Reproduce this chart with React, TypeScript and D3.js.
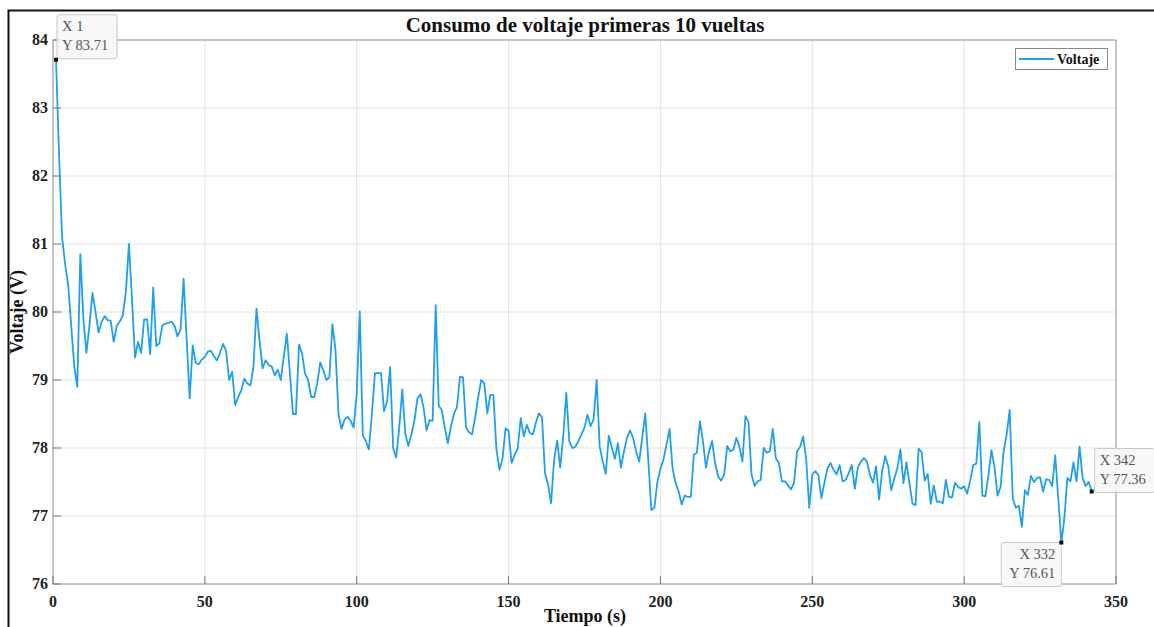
import React from "react";
import * as d3 from "d3";

// Voltage sampled once per second over the first 10 laps (t = 1 … 342 s)
const voltaje: number[] = [
  83.71, 82.3, 81.1, 80.7, 80.4, 79.8, 79.2, 78.9, 80.85, 79.9,
  79.4, 79.8, 80.28, 80.0, 79.7, 79.85, 79.94, 79.88, 79.87, 79.56,
  79.8, 79.86, 79.95, 80.3, 81.0, 80.2, 79.33, 79.56, 79.4, 79.89,
  79.89, 79.38, 80.36, 79.5, 79.54, 79.8, 79.83, 79.84, 79.86, 79.8,
  79.64, 79.74, 80.49, 79.6, 78.73, 79.51, 79.25, 79.23, 79.3, 79.34,
  79.42, 79.43, 79.35, 79.29, 79.4, 79.53, 79.43, 79.0, 79.12, 78.63,
  78.75, 78.85, 79.02, 78.95, 78.92, 79.19, 80.05, 79.58, 79.17, 79.29,
  79.22, 79.2, 79.07, 79.15, 79.0, 79.35, 79.68, 79.1, 78.5, 78.5,
  79.52, 79.39, 79.09, 79.0, 78.75, 78.75, 78.95, 79.26, 79.14, 79.0,
  79.04, 79.82, 79.45, 78.5, 78.28, 78.42, 78.46, 78.4, 78.3, 78.8,
  80.01, 78.19, 78.1, 77.98, 78.5, 79.1, 79.1, 79.1, 78.54, 78.68,
  79.19, 78.0, 77.86, 78.3, 78.86, 78.21, 78.03, 78.2, 78.4, 78.73,
  78.79, 78.6, 78.26, 78.41, 78.4, 80.1, 78.62, 78.56, 78.3, 78.07,
  78.31, 78.5, 78.6, 79.05, 79.04, 78.3, 78.23, 78.2, 78.45, 78.75,
  79.0, 78.95, 78.51, 78.78, 78.78, 77.98, 77.68, 77.84, 78.29, 78.25,
  77.78, 77.9, 77.99, 78.44, 78.17, 78.34, 78.22, 78.2, 78.37, 78.51,
  78.45, 77.63, 77.46, 77.19, 77.83, 78.11, 77.71, 78.17, 78.81, 78.1,
  78.0, 78.02, 78.1, 78.2, 78.3, 78.49, 78.32, 78.42, 79.0, 78.02,
  77.8, 77.62, 78.18, 78.0, 77.84, 78.07, 77.71, 77.95, 78.15, 78.26,
  78.15, 77.95, 77.8, 78.15, 78.51, 77.83, 77.09, 77.12, 77.5, 77.7,
  77.83, 78.05, 78.28, 77.7, 77.49, 77.36, 77.17, 77.3, 77.28, 77.28,
  77.9, 77.93, 78.39, 78.1, 77.71, 77.95, 78.1, 77.78, 77.58, 77.52,
  77.61, 78.03, 77.95, 77.97, 78.15, 78.02, 77.8, 78.47, 78.38, 77.61,
  77.44, 77.51, 77.53, 78.0, 77.93, 77.95, 78.28, 77.85, 77.78, 77.51,
  77.51, 77.45, 77.39, 77.49, 77.95, 78.02, 78.17, 77.83, 77.12, 77.61,
  77.66, 77.6, 77.26, 77.49, 77.7, 77.78, 77.68, 77.61, 77.75, 77.51,
  77.53, 77.63, 77.75, 77.4, 77.71, 77.8, 77.85, 77.8, 77.6, 77.49,
  77.73, 77.24, 77.66, 77.88, 77.73, 77.38, 77.55, 77.7, 77.98, 77.48,
  77.79, 77.48, 77.18, 77.16, 77.99, 77.94, 77.52, 77.62, 77.18, 77.45,
  77.21, 77.21, 77.19, 77.53, 77.28, 77.27, 77.49, 77.43, 77.4, 77.44,
  77.33, 77.52, 77.75, 77.77, 78.38, 77.3, 77.29, 77.6, 77.97, 77.72,
  77.3, 77.43, 77.95, 78.2, 78.56, 77.26, 77.12, 77.15, 76.84, 77.38,
  77.31, 77.59, 77.5, 77.56, 77.57, 77.36, 77.54, 77.53, 77.44, 77.89,
  77.25, 76.61, 76.97, 77.56, 77.51, 77.79, 77.51, 78.02, 77.56, 77.44,
  77.5, 77.36,
];

const xTicks: number[] = [0, 50, 100, 150, 200, 250, 300, 350];
const yTicks: number[] = [76, 77, 78, 79, 80, 81, 82, 83, 84];

// Highlighted samples (time in s) shown with data tips
const marcadores: number[] = [1, 332, 342];

const W = 1154;
const H = 627;
const FONT = "'Liberation Serif', 'Times New Roman', serif";
const LINE = "#1f9ff0";

export default function App() {
  const x = d3.scaleLinear().domain([0, 350]).range([53, 1116]);
  const y = d3.scaleLinear().domain([76, 84]).range([584, 40]);
  const [x0, x1] = x.range();
  const [y0, y1] = y.range();

  const pts: [number, number][] = voltaje.map((v, i) => [i + 1, v]);
  const line = d3
    .line<[number, number]>()
    .x((d) => x(d[0]))
    .y((d) => y(d[1]));

  const fmt = (v: number) => v.toFixed(2);

  // data tip boxes placed around the marked point
  const tip = (t: number) => {
    const v = voltaje[t - 1];
    const px = x(t);
    const py = y(v);
    if (t === 1) {
      return { bx: px + 1, by: py - 45, anchor: "start", tx: px + 6 };
    }
    if (t === 332) {
      return { bx: px - 60, by: py + 0, anchor: "end", tx: px - 6 };
    }
    return { bx: px + 3, by: py - 43, anchor: "start", tx: px + 8 };
  };

  return (
    <svg
      width={W}
      height={H}
      style={{ position: "absolute", left: 0, top: 0, background: "#fff" }}
      fontFamily={FONT}
    >
      <rect x={0} y={0} width={W} height={H} fill="#fff" />
      {/* figure frame */}
      <rect x={8.5} y={10.5} width={W + 20} height={H + 20} fill="none" stroke="#111" strokeWidth={2} />

      {/* grid */}
      <g stroke="#e3e3e3" strokeWidth={1}>
        {xTicks.map((t) => (
          <line key={"gx" + t} x1={x(t)} x2={x(t)} y1={y1} y2={y0} />
        ))}
        {yTicks.map((t) => (
          <line key={"gy" + t} x1={x0} x2={x1} y1={y(t)} y2={y(t)} />
        ))}
      </g>

      {/* axes box */}
      <rect x={x0} y={y1} width={x1 - x0} height={y0 - y1} fill="none" stroke="#9a9a9a" strokeWidth={1} />

      {/* ticks */}
      <g stroke="#777" strokeWidth={1}>
        {xTicks.map((t) => (
          <line key={"tx" + t} x1={x(t)} x2={x(t)} y1={y0} y2={y0 - 8} />
        ))}
        {yTicks.map((t) => (
          <line key={"ty" + t} x1={x0} x2={x0 + 8} y1={y(t)} y2={y(t)} />
        ))}
      </g>

      {/* tick labels */}
      <g fontWeight="bold" fontSize={16} fill="#222">
        {xTicks.map((t) => (
          <text key={"lx" + t} x={x(t)} y={607} textAnchor="middle">
            {t}
          </text>
        ))}
        {yTicks.map((t) => (
          <text key={"ly" + t} x={48} y={y(t) + 5} textAnchor="end">
            {t}
          </text>
        ))}
      </g>

      {/* series */}
      <path d={line(pts) || ""} fill="none" stroke={LINE} strokeWidth={1.8} strokeLinejoin="round" />

      {/* title and axis labels */}
      <text x={585} y={32} textAnchor="middle" fontWeight="bold" fontSize={21} fill="#111">
        Consumo de voltaje primeras 10 vueltas
      </text>
      <text x={585} y={622} textAnchor="middle" fontWeight="bold" fontSize={18} fill="#111">
        Tiempo (s)
      </text>
      <text
        transform={`translate(23, ${(y0 + y1) / 2}) rotate(-90)`}
        textAnchor="middle"
        fontWeight="bold"
        fontSize={18}
        fill="#111"
      >
        Voltaje (V)
      </text>

      {/* legend */}
      <g>
        <rect x={1015.5} y={48.5} width={92} height={21} fill="#fff" stroke="#8a8a8a" strokeWidth={1} />
        <line x1={1019} x2={1054} y1={59} y2={59} stroke={LINE} strokeWidth={2} />
        <text x={1057} y={64} fontWeight="bold" fontSize={14} fill="#111">
          Voltaje
        </text>
      </g>

      {/* data tips */}
      {marcadores.map((t) => {
        const v = voltaje[t - 1];
        const b = tip(t);
        return (
          <g key={"dt" + t}>
            <rect
              x={b.bx}
              y={b.by}
              width={60}
              height={44}
              rx={2}
              fill="#f7f7f7"
              fillOpacity={0.92}
              stroke="#c8c8c8"
              strokeWidth={1}
            />
            <text x={b.tx} y={b.by + 16} textAnchor={b.anchor as any} fontSize={14.5} fill="#555">
              {`X ${t}`}
            </text>
            <text x={b.tx} y={b.by + 35} textAnchor={b.anchor as any} fontSize={14.5} fill="#555">
              {`Y ${fmt(v)}`}
            </text>
            <rect x={x(t) - 2} y={y(v) - 2} width={4} height={4} fill="#111" />
          </g>
        );
      })}
    </svg>
  );
}
